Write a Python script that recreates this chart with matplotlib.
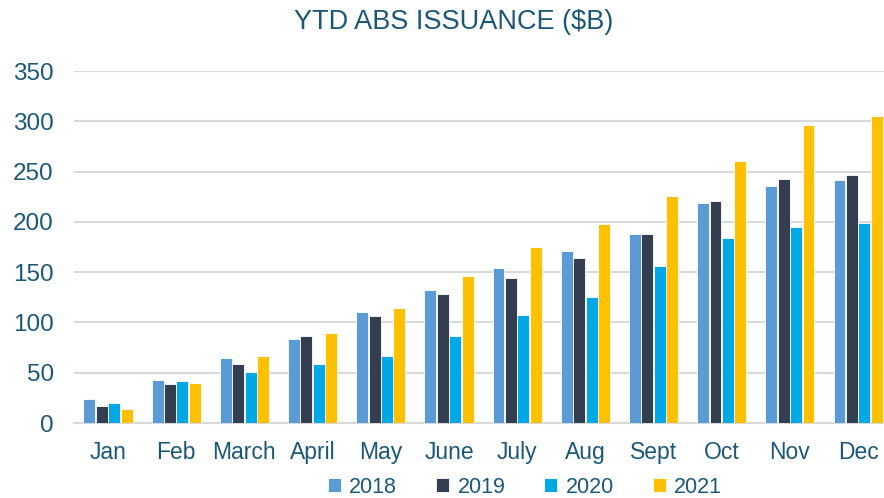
import matplotlib
matplotlib.use("Agg")
import matplotlib.pyplot as plt
import numpy as np

plt.rcParams['font.family'] = ['Liberation Sans', 'DejaVu Sans']

months = ["Jan", "Feb", "March", "April", "May", "June", "July", "Aug", "Sept", "Oct", "Nov", "Dec"]
series_names = ["2018", "2019", "2020", "2021"]
v2018 = [23.5, 42.4, 64.3, 83.5, 110, 132, 154.5, 171.5, 188.3, 218.8, 235.3, 241.6]
v2019 = [17.2, 39.1, 59, 86.2, 106.7, 128.3, 144.5, 163.7, 188.3, 221.1, 243, 246.6]
v2020 = [19.9, 41.4, 50.4, 59, 67, 86.2, 107.7, 125.6, 156.1, 184.3, 194.6, 198.5]
v2021 = [14.3, 40.1, 67, 89.8, 114, 145.8, 175, 198.2, 226, 260.5, 296.3, 305]
colors = ["#5B9BD5", "#333F50", "#00A9E6", "#FFC000"]
yticks = [0, 50, 100, 150, 200, 250, 300, 350]

text_color = "#1B5878"

W, H = 884, 498
fig = plt.figure(figsize=(W / 100, H / 100), dpi=100)
ax = fig.add_axes([74 / W, 1 - 423 / H, 810 / W, (423 - 71) / H])

x = np.arange(len(months))
step = 0.182
for i, (vals, c, name) in enumerate(zip([v2018, v2019, v2020, v2021], colors, series_names)):
    ax.bar(x + (i - 1.5) * step, vals, width=0.175, color=c, edgecolor="white",
           linewidth=0.6, label=name, zorder=3)

ax.set_xlim(-0.4987, 11.38)
ax.set_ylim(0, 350)
ax.set_yticks(yticks)
ax.set_yticklabels([str(t) for t in yticks])
ax.set_xticks(x)
ax.set_xticklabels(months)
ax.grid(axis="y", color="#D9D9D9", linewidth=1.5, zorder=0)
ax.set_axisbelow(True)
for s in ["top", "right", "left"]:
    ax.spines[s].set_visible(False)
ax.spines["bottom"].set_color("#D9D9D9")
ax.spines["bottom"].set_linewidth(1.5)
ax.tick_params(axis="y", length=0, pad=14.5, labelsize=17.5, labelcolor=text_color)
ax.tick_params(axis="x", length=0, pad=13, labelsize=16.5, labelcolor=text_color)

fig.text(454 / W, 1 - 22 / H, "YTD ABS ISSUANCE ($B)", ha="center", va="center",
         fontsize=19.5, color=text_color)

leg = fig.legend(loc="center", bbox_to_anchor=(525 / W, 1 - 487 / H), ncol=4, frameon=False,
                 fontsize=15.5, handlelength=0.6, handleheight=0.6, handletextpad=0.4,
                 columnspacing=1.8, labelcolor=text_color)

fig.savefig("out.png", dpi=100)
